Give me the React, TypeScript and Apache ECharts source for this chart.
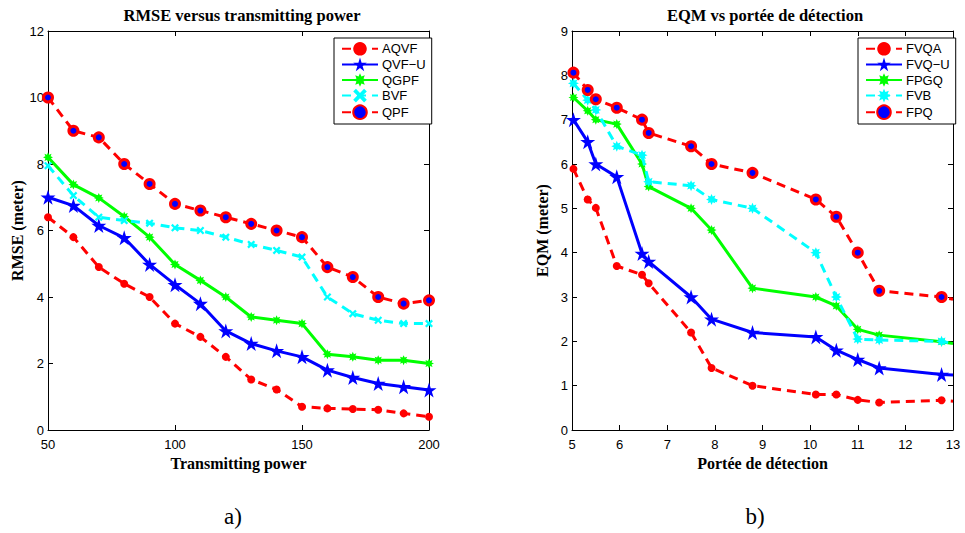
import React, { useEffect, useRef } from "react";
import * as echarts from "echarts";

// ---- Chart a) RMSE versus transmitting power ----
const powerX = [50, 60, 70, 80, 90, 100, 110, 120, 130, 140, 150, 160, 170, 180, 190, 200];
const aqvf = [6.4, 5.8, 4.9, 4.4, 4.0, 3.2, 2.8, 2.2, 1.52, 1.22, 0.7, 0.65, 0.63, 0.61, 0.5, 0.4];
const qvfU = [7.0, 6.75, 6.15, 5.78, 4.98, 4.37, 3.8, 2.98, 2.6, 2.38, 2.2, 1.8, 1.58, 1.4, 1.3, 1.2];
const qgpf = [8.2, 7.38, 6.98, 6.42, 5.8, 4.98, 4.5, 4.0, 3.4, 3.3, 3.2, 2.28, 2.2, 2.1, 2.1, 2.0];
const bvf = [7.95, 7.05, 6.4, 6.3, 6.22, 6.08, 6.0, 5.8, 5.58, 5.4, 5.2, 4.0, 3.5, 3.3, 3.2, 3.2];
const qpf = [10.0, 9.0, 8.8, 8.0, 7.4, 6.8, 6.6, 6.4, 6.2, 6.0, 5.8, 4.9, 4.6, 4.0, 3.8, 3.9];

// ---- Chart b) EQM vs portée de détection ----
const rangeX = [5.03, 5.33, 5.5, 5.94, 6.47, 6.61, 7.5, 7.93, 8.79, 10.12, 10.55, 11.0, 11.45, 12.76, 13];
const fvqa = [5.89, 5.2, 5.01, 3.7, 3.5, 3.31, 2.2, 1.4, 1.0, 0.8, 0.8, 0.68, 0.62, 0.67, 0.65];
const fvqU = [7.0, 6.5, 6.0, 5.71, 3.98, 3.8, 3.0, 2.5, 2.2, 2.1, 1.8, 1.59, 1.4, 1.25, 1.24];
const fpgq = [7.5, 7.2, 7.0, 6.9, 6.0, 5.49, 5.0, 4.51, 3.2, 3.0, 2.8, 2.27, 2.14, 1.99, 1.95];
const fvb = [7.82, 7.44, 7.22, 6.4, 6.2, 5.6, 5.51, 5.2, 5.0, 4.0, 3.0, 2.05, 2.03, 2.0, 1.95];
const fpq = [8.06, 7.67, 7.46, 7.27, 7.0, 6.7, 6.4, 6.0, 5.8, 5.2, 4.81, 4.0, 3.14, 3.0, 2.95];

const namesA = ["AQVF", "QVF\u2212U", "QGPF", "BVF", "QPF"];
const namesB = ["FVQA", "FVQ\u2212U", "FPGQ", "FVB", "FPQ"];

const STAR =
  "path://M50,0 L61.2,34.5 L97.6,34.5 L68.2,55.9 L79.4,90.5 L50,69.1 L20.6,90.5 L31.8,55.9 L2.4,34.5 L38.8,34.5 Z";
const ASTER =
  "path://M50,0 L60.7,24.1 L85.4,14.6 L75.9,39.3 L100,50 L75.9,60.7 L85.4,85.4 L60.7,75.9 L50,100 L39.3,75.9 L14.6,85.4 L24.1,60.7 L0,50 L24.1,39.3 L14.6,14.6 L39.3,24.1 Z";
const CROSS =
  "path://M20,0 L50,30 L80,0 L100,20 L70,50 L100,80 L80,100 L50,70 L20,100 L0,80 L30,50 L0,20 Z";

const RED = "#ff0000";
const BLUE = "#0000ff";
const GREEN = "#00ff00";
const CYAN = "#00ffff";
const DASH = [9, 6];
const SANS = "Liberation Sans, Arial, sans-serif";
const SERIF = "Liberation Serif, Times New Roman, serif";

function pairs(xs: number[], ys: number[], lastNoSymbol: boolean) {
  return xs.map((x, i) =>
    lastNoSymbol && i === xs.length - 1
      ? { value: [x, ys[i]], symbol: "none" }
      : { value: [x, ys[i]] }
  );
}

function makeSeries(xs: number[], lists: number[][], names: string[], axisIdx: number, bSet: boolean) {
  const styles = [
    { color: RED, dash: true, symbol: "circle", size: 8, item: { color: RED } },
    { color: BLUE, dash: false, symbol: STAR, size: 15, item: { color: BLUE } },
    { color: GREEN, dash: false, symbol: ASTER, size: 10, item: { color: GREEN } },
    { color: CYAN, dash: true, symbol: bSet ? ASTER : CROSS, size: bSet ? 11 : 8, item: { color: CYAN } },
    {
      color: RED,
      dash: true,
      symbol: "circle",
      size: 9,
      item: { color: BLUE, borderColor: RED, borderWidth: 3 },
    },
  ];
  return lists.map((ys, k) => {
    const s = styles[k];
    return {
      type: "line",
      name: names[k],
      xAxisIndex: axisIdx,
      yAxisIndex: axisIdx,
      data: pairs(xs, ys, bSet),
      symbol: s.symbol,
      symbolSize: s.size,
      showAllSymbol: true,
      clip: false,
      lineStyle: { color: s.color, width: 3, type: s.dash ? DASH : "solid" },
      itemStyle: s.item,
      emphasis: { disabled: true },
      z: 2 + k,
    };
  });
}

const tickLabel = { color: "#000", fontSize: 13, fontFamily: SANS };
const nameStyle = {
  color: "#000",
  fontSize: 16,
  fontWeight: "bold" as const,
  fontFamily: SERIF,
};

function axisCommon(grid: number, min: number, max: number, interval: number) {
  return {
    type: "value",
    gridIndex: grid,
    min,
    max,
    interval,
    splitLine: { show: false },
    axisLine: { show: true, onZero: false, lineStyle: { color: "#000", width: 1 } },
    axisTick: { show: true, inside: true, length: 5, lineStyle: { color: "#000" } },
  };
}

function xAxes(grid: number, min: number, max: number, interval: number, name: string) {
  const common = axisCommon(grid, min, max, interval);
  return [
    {
      ...common,
      position: "bottom",
      name,
      nameLocation: "middle",
      nameGap: 25,
      nameTextStyle: nameStyle,
      axisLabel: { ...tickLabel, margin: 8, lineHeight: 13 },
    },
    { ...common, position: "top", axisLabel: { show: false } },
  ];
}

function yAxes(grid: number, min: number, max: number, interval: number, name: string) {
  const common = axisCommon(grid, min, max, interval);
  return [
    {
      ...common,
      position: "left",
      name,
      nameLocation: "middle",
      nameGap: 22,
      nameTextStyle: nameStyle,
      axisLabel: { ...tickLabel, margin: 4, lineHeight: 11 },
    },
    { ...common, position: "right", axisLabel: { show: false } },
  ];
}

function legend(names: string[], left: number) {
  return {
    data: names,
    orient: "vertical",
    left,
    top: 38,
    padding: [4, 6, 4, 7],
    itemWidth: 36,
    itemHeight: 17,
    itemGap: 2,
    borderColor: "#000",
    borderWidth: 1,
    backgroundColor: "#fff",
    selectedMode: false,
    textStyle: { color: "#000", fontSize: 13, fontFamily: SANS, padding: [0, 0, 0, -1] },
  };
}

export default function App() {
  const ref = useRef<HTMLDivElement>(null);
  useEffect(() => {
    if (!ref.current) return;
    const chart = echarts.init(ref.current, undefined, { renderer: "svg" });
    // axes arrays are [bottom/left of a, top/right of a, bottom/left of b, top/right of b]
    const xa = [
      ...xAxes(0, 50, 200, 50, "Transmitting power"),
      ...xAxes(1, 5, 13, 1, "Port\u00e9e de d\u00e9tection"),
    ];
    const ya = [...yAxes(0, 0, 12, 2, "RMSE (meter)"), ...yAxes(1, 0, 9, 1, "EQM (meter)")];
    const seriesA = makeSeries(powerX, [aqvf, qvfU, qgpf, bvf, qpf], namesA, 0, false);
    const seriesB = makeSeries(rangeX, [fvqa, fvqU, fpgq, fvb, fpq], namesB, 2, true);
    const labelStyle = { color: "#000", fontSize: 23, fontWeight: "normal", fontFamily: SERIF };
    chart.setOption({
      animation: false,
      backgroundColor: "#fff",
      title: [
        { text: "RMSE versus transmitting power", left: 237, top: 2, textAlign: "center", textStyle: { ...nameStyle, fontSize: 16.5 } },
        { text: "EQM vs port\u00e9e de d\u00e9tection", left: 760, top: 2, textAlign: "center", textStyle: { ...nameStyle, fontSize: 16.5 } },
        { text: "a)", left: 228, top: 500, textAlign: "center", textStyle: labelStyle },
        { text: "b)", left: 750, top: 500, textAlign: "center", textStyle: labelStyle },
      ],
      legend: [legend(namesA, 334), legend(namesB, 858)],
      grid: [
        { left: 48, top: 31, width: 381, height: 399, containLabel: false },
        { left: 572, top: 31, width: 381, height: 399, containLabel: false },
      ],
      xAxis: xa,
      yAxis: ya,
      series: [...seriesA, ...seriesB],
    });
    return () => chart.dispose();
  }, []);
  return (
    <div
      ref={ref}
      style={{ position: "fixed", left: 0, top: 0, width: 965, height: 533, background: "#fff" }}
    />
  );
}
